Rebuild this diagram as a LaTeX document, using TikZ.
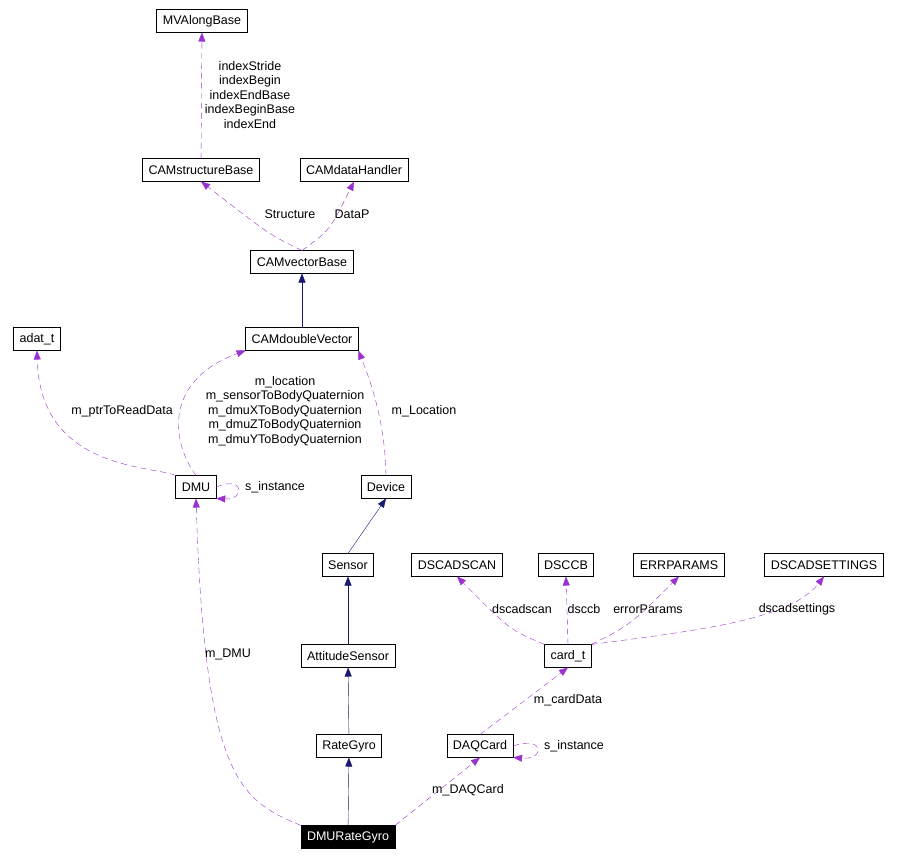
\documentclass[tikz,border=0pt]{standalone}
\usepackage{fontspec}
\setmainfont{Liberation Sans}
\usetikzlibrary{arrows.meta}
\definecolor{usecol}{HTML}{9A32CD}
\definecolor{inhcol}{HTML}{191970}
\begin{document}
\begin{tikzpicture}[x=1pt,y=-1pt,inner sep=0pt,outer sep=0pt,
  every node/.style={font=\fontsize{12.5}{14.5}\selectfont},
  cls/.style={draw,line width=0.8pt,minimum height=23pt,inner xsep=6pt,fill=white},
  use/.style={usecol,dashed,dash pattern=on 6pt off 4pt,-{Triangle[length=9pt,width=7pt]}},
  inh/.style={inhcol,-{Triangle[length=9pt,width=7pt]}},
  lbl/.style={align=center,text=black}]
  \useasboundingbox (0,0) rectangle (913,857);
  % classes
  \node[cls] (mvalong) at (202,21) {MVAlongBase};
  \node[cls] (structbase) at (201,170) {CAMstructureBase};
  \node[cls] (datahandler) at (354,170) {CAMdataHandler};
  \node[cls] (vecbase) at (302,262) {CAMvectorBase};
  \node[cls] (dblvec) at (302,339) {CAMdoubleVector};
  \node[cls] (adat) at (37,339) {adat\_t};
  \node[cls] (dmu) at (196,487) {DMU};
  \node[cls] (device) at (386,487) {Device};
  \node[cls] (sensor) at (348,565) {Sensor};
  \node[cls] (attsensor) at (348,656) {AttitudeSensor};
  \node[cls] (rategyro) at (349,746) {RateGyro};
  \node[cls,fill=black,text=white] (dmurg) at (348,837) {DMURateGyro};
  \node[cls] (daqcard) at (480,746) {DAQCard};
  \node[cls] (cardt) at (568,656) {card\_t};
  \node[cls] (dscadscan) at (457,565) {DSCADSCAN};
  \node[cls] (dsccb) at (566,565) {DSCCB};
  \node[cls] (errparams) at (679,565) {ERRPARAMS};
  \node[cls] (dscadset) at (824,565) {DSCADSETTINGS};
  % inheritance
  \draw[inh] (dblvec.north) -- (vecbase.south);
  \draw[inh] (sensor.north) -- (device.south);
  \draw[inh] (attsensor) -- (sensor);
  \draw[inh] (rategyro) -- (attsensor);
  \draw[inh] (dmurg) -- (rategyro);
  % usage
  \draw[use] (structbase) -- (mvalong);
  \node[lbl] (lidx) at (250,95) {indexStride\\indexBegin\\indexEndBase\\indexBeginBase\\indexEnd};
  \draw[use] (vecbase.north) .. controls (270,235) .. (structbase.south);
  \node[lbl] (lstruct) at (290,214) {Structure};
  \draw[use] (vecbase.north) .. controls (330,230) .. (datahandler.south);
  \node[lbl] (ldatap) at (352,214) {DataP};
  \draw[use] (dmu.north) .. controls (170,440) and (165,380) .. (dblvec.south west);
  \node[lbl] (ldmu) at (285,411) {m\_location\\m\_sensorToBodyQuaternion\\m\_dmuXToBodyQuaternion\\m\_dmuZToBodyQuaternion\\m\_dmuYToBodyQuaternion};
  \draw[use] (device.north) .. controls (385,420) and (370,380) .. (dblvec.south east);
  \node[lbl] (lloc) at (424,411) {m\_Location};
  \draw[use] (dmu.north west) .. controls (150,465) and (40,470) .. (adat.south);
  \node[lbl] (lptr) at (122,411) {m\_ptrToReadData};
  \draw[use] (dmu.east) .. controls (245,475) and (245,500) .. (dmu.south east);
  \node[lbl] (lsinst) at (275,487) {s\_instance};
  \draw[use] (dmurg.north west) .. controls (240,800) and (205,780) .. (dmu.south);
  \node[lbl] (lmdmu) at (228,654) {m\_DMU};
  \draw[use] (dmurg.north east) -- (daqcard.south);
  \node[lbl] (lmdaq) at (468,790) {m\_DAQCard};
  \draw[use] (daqcard.north) -- (cardt.south);
  \node[lbl] (lcard) at (568,700) {m\_cardData};
  \draw[use] (daqcard.east) .. controls (545,735) and (545,760) .. (daqcard.south east);
  \node[lbl] (lsinst2) at (574,746) {s\_instance};
  \draw[use] (cardt.north west) .. controls (510,630) .. (dscadscan.south);
  \node[lbl] (ldscan) at (522,609) {dscadscan};
  \draw[use] (cardt.north) -- (dsccb.south);
  \node[lbl] (ldsccb) at (584,609) {dsccb};
  \draw[use] (cardt.north east) .. controls (630,625) .. (errparams.south);
  \node[lbl] (lerr) at (648,609) {errorParams};
  \draw[use] (cardt.north east) .. controls (700,630) and (790,620) .. (dscadset.south);
  \node[lbl] (ldsset) at (797,609) {dscadsettings};
\end{tikzpicture}
\end{document}
